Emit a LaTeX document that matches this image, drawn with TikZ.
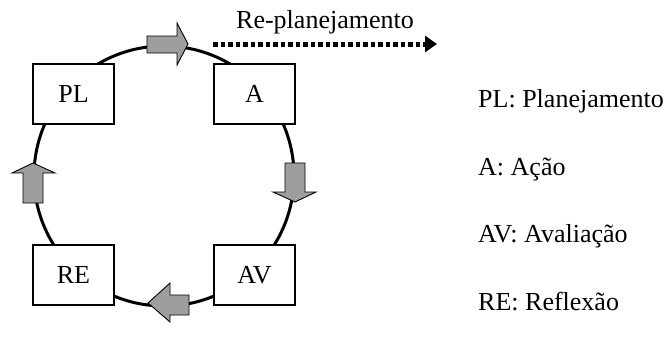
\documentclass[tikz,border=0pt]{standalone}
\usepackage{fontspec}
\setmainfont{Liberation Serif}
\usetikzlibrary{arrows.meta}
\definecolor{arrowgray}{RGB}{158,158,158}
\begin{document}
\begin{tikzpicture}[x=1pt,y=-1pt,
  stage/.style={draw=black, line width=1.4pt, fill=white,
    minimum width=81pt, minimum height=60pt, inner sep=0pt,
    font=\fontsize{26}{31}\selectfont},
  blockarrow/.style={draw=black, line width=0.9pt, fill=arrowgray, line join=miter},
  legend/.style={anchor=base west, inner sep=0pt, font=\fontsize{26}{31}\selectfont},
  ring/.style={line width=3pt},
  replan/.style={line width=5pt, dash pattern=on 4.5pt off 3pt,
    -{Triangle[length=12pt,width=16pt]}}]
\useasboundingbox (0,0) rectangle (670,338);

% the cycle
\draw[ring] (164,176) circle[radius=130];

% stages of the cycle
\node[stage] (pl) at (73.5,94)  {PL};
\node[stage] (a)  at (254.5,94) {A};
\node[stage] (re) at (73.5,275) {RE};
\node[stage] (av) at (254.5,275) {AV};

% block arrows giving the direction of the cycle
\draw[blockarrow] (147,36) -- (177,36) -- (177,23) -- (188,44) -- (177,65) -- (177,53) -- (147,53) -- cycle;
\draw[blockarrow] (285,163) -- (305,163) -- (305,192) -- (316,192) -- (295,202) -- (273,192) -- (285,192) -- cycle;
\draw[blockarrow] (189,295) -- (189,315) -- (170,315) -- (170,322) -- (148,303) -- (170,283) -- (170,295) -- cycle;
\draw[blockarrow] (23,203) -- (43,203) -- (43,173) -- (55,173) -- (33,163) -- (12,173) -- (23,173) -- cycle;

% re-planning exit
\coordinate (rpstart) at (213,44);
\coordinate (rpend) at (437,44);
\draw[replan] (rpstart) -- (rpend);
\node[inner sep=0pt, font=\fontsize{26}{31}\selectfont] (rplabel) at (325,22) {Re-planejamento};

% legend
\node[legend] (lpl) at (478,107) {PL: Planejamento};
\node[legend] (la)  at (478,175) {A: Ação};
\node[legend] (lav) at (478,242) {AV: Avaliação};
\node[legend] (lre) at (478,310) {RE: Reflexão};
\end{tikzpicture}
\end{document}
